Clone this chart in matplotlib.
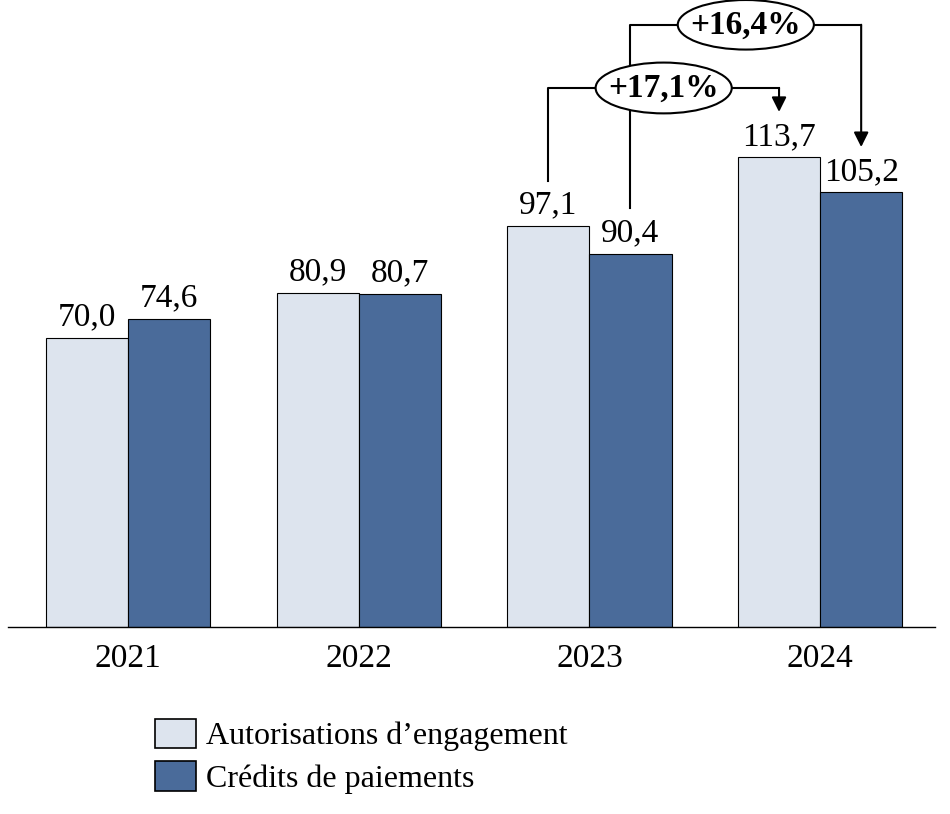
import numpy as np
import matplotlib.pyplot as plt
from matplotlib.patches import Ellipse, Patch

years = ['2021', '2022', '2023', '2024']
ae = [70.0, 80.9, 97.1, 113.7]
cp = [74.6, 80.7, 90.4, 105.2]
labels = ['Autorisations d\u2019engagement', 'Crédits de paiements']
pct_ae = '+17,1%'
pct_cp = '+16,4%'

ae_color = '#dde4ee'
cp_color = '#4a6b9a'

plt.rcParams['font.family'] = ['Liberation Serif', 'DejaVu Serif']
fs = 24

fig = plt.figure(figsize=(9.5, 8.14), dpi=100)
ax = fig.add_axes([8 / 950, 187 / 814, 927 / 950, 627 / 814])

x = np.arange(len(years))
w = 0.356
b1 = ax.bar(x - w / 2, ae, w, color=ae_color, edgecolor='black', linewidth=0.8)
b2 = ax.bar(x + w / 2, cp, w, color=cp_color, edgecolor='black', linewidth=0.8)

def fmt(v):
    return f'{v:.1f}'.replace('.', ',')

for bars, vals in ((b1, ae), (b2, cp)):
    for r, v in zip(bars, vals):
        ax.annotate(fmt(v), (r.get_x() + r.get_width() / 2, v), xytext=(0, 4),
                    textcoords='offset points', ha='center', va='bottom', fontsize=fs)

ax.set_xlim(-0.52, 3.498)
ax.set_ylim(0, 151.8)
ax.set_xticks(x)
ax.set_xticklabels(years, fontsize=fs)
ax.tick_params(axis='x', length=0, pad=12)
ax.set_yticks([])
for s in ('top', 'left', 'right'):
    ax.spines[s].set_visible(False)
ax.spines['bottom'].set_linewidth(1.0)

# growth brackets
off = 11
lw = 1.5
arrow = dict(arrowstyle='-|>', mutation_scale=22, lw=lw, color='black',
             shrinkA=0, shrinkB=0)

# AE 2023 -> 2024
xa0, xa1 = 2 - w / 2, 3 - w / 2
ya = 130.5
ax.plot([xa0, xa0, xa1], [ae[2] + off, ya, ya], color='black', lw=lw, zorder=3)
ax.annotate('', xy=(xa1, ae[3] + off), xytext=(xa1, ya), arrowprops=arrow, zorder=3)

# CP 2023 -> 2024
xc0, xc1 = 2 + w / 2, 3 + w / 2
yc = 145.8
ax.plot([xc0, xc0, xc1], [cp[2] + off, yc, yc], color='black', lw=lw, zorder=3)
ax.annotate('', xy=(xc1, cp[3] + off), xytext=(xc1, yc), arrowprops=arrow, zorder=3)

ax.add_patch(Ellipse(((xa0 + xa1) / 2, ya), 0.59, 12.3, facecolor='white',
                     edgecolor='black', lw=lw, zorder=4, clip_on=False))
ax.text((xa0 + xa1) / 2, ya, pct_ae, ha='center', va='center', fontsize=fs,
        fontweight='bold', zorder=5)
ax.add_patch(Ellipse(((xc0 + xc1) / 2, yc), 0.59, 12.0, facecolor='white',
                     edgecolor='black', lw=lw, zorder=4, clip_on=False))
ax.text((xc0 + xc1) / 2, yc, pct_cp, ha='center', va='center', fontsize=fs,
        fontweight='bold', zorder=5)

handles = [Patch(facecolor=ae_color, edgecolor='black', lw=1.2),
           Patch(facecolor=cp_color, edgecolor='black', lw=1.2)]
fig.legend(handles, labels, loc='upper left', bbox_to_anchor=(142 / 950, 1 - 706 / 814),
           frameon=False, fontsize=23, handlelength=1.3, handleheight=1.05,
           handletextpad=0.3, labelspacing=0.3, borderaxespad=0)

fig.savefig('out.png', dpi=100)
